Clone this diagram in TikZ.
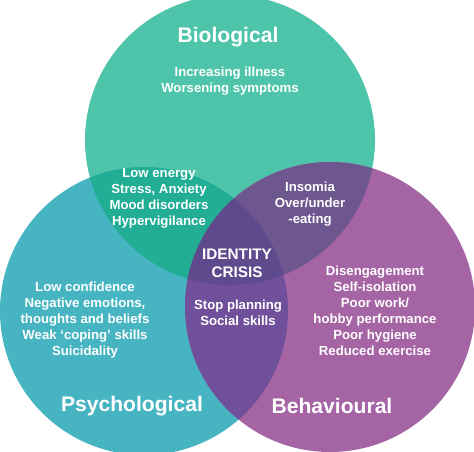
\documentclass[tikz,border=0pt]{standalone}
\usepackage{fontspec}
\setmainfont{Liberation Sans}
\definecolor{BioTeal}{HTML}{4EC5AA}
\definecolor{PsyCyan}{HTML}{47B4C2}
\definecolor{BehPlum}{HTML}{A564A4}
\definecolor{BioPsy}{HTML}{22AE95}
\definecolor{BioBeh}{HTML}{6E578F}
\definecolor{PsyBeh}{HTML}{70509A}
\definecolor{CoreViolet}{HTML}{5F4A8E}

\begin{document}
\begin{tikzpicture}[
	font=\bfseries,
	title/.style={text=white, font=\fontsize{12}{14}\selectfont\bfseries},
	items/.style={text=white, align=center, inner sep=0pt, font=\fontsize{7.5}{9.1}\selectfont\bfseries},
	core/.style={text=white, align=center, inner sep=0pt, font=\fontsize{8.7}{10.3}\selectfont\bfseries}
]
\useasboundingbox (0,0) rectangle (9.48,9.02);
\clip (0,0) rectangle (9.48,9.02);

\coordinate (bio) at (4.60,6.22);
\coordinate (psy) at (2.88,2.80);
\coordinate (beh) at (6.60,2.88);

% the three sets
\fill[BioTeal] (bio) circle (2.90);
\fill[PsyCyan] (psy) circle (2.88);
\fill[BehPlum] (beh) circle (2.90);

% overlaps
\begin{scope}
	\clip (bio) circle (2.90);
	\fill[BioPsy] (psy) circle (2.88);
	\fill[BioBeh] (beh) circle (2.90);
\end{scope}
\begin{scope}
	\clip (psy) circle (2.88);
	\fill[PsyBeh] (beh) circle (2.90);
\end{scope}
\begin{scope}
	\clip (bio) circle (2.90);
	\clip (psy) circle (2.88);
	\fill[CoreViolet] (beh) circle (2.90);
\end{scope}

\node[title] (biotitle) at (4.56,8.28) {Biological};
\node[title] (psytitle) at (2.64,0.90) {Psychological};
\node[title] (behtitle) at (6.64,0.90) {Behavioural};

\node[items] (bioonly) at (4.60,7.40) {Increasing illness\\Worsening symptoms};
\node[items] (biopsy) at (3.18,5.06) {Low energy\\Stress, Anxiety\\Mood disorders\\Hypervigilance};
\node[items] (biobeh) at (6.20,4.94) {Insomia\\Over/under\\-eating};
\node[core] (crisis) at (4.74,3.76) {IDENTITY\\CRISIS};
\node[items] (psybeh) at (4.76,2.76) {Stop planning\\Social skills};
\node[items] (psyonly) at (1.70,2.62) {Low confidence\\Negative emotions,\\thoughts and beliefs\\Weak ‘coping’ skills\\Suicidality};
\node[items] (behonly) at (7.50,2.80) {Disengagement\\Self-isolation\\Poor work/\\hobby performance\\Poor hygiene\\Reduced exercise};
\end{tikzpicture}
\end{document}
